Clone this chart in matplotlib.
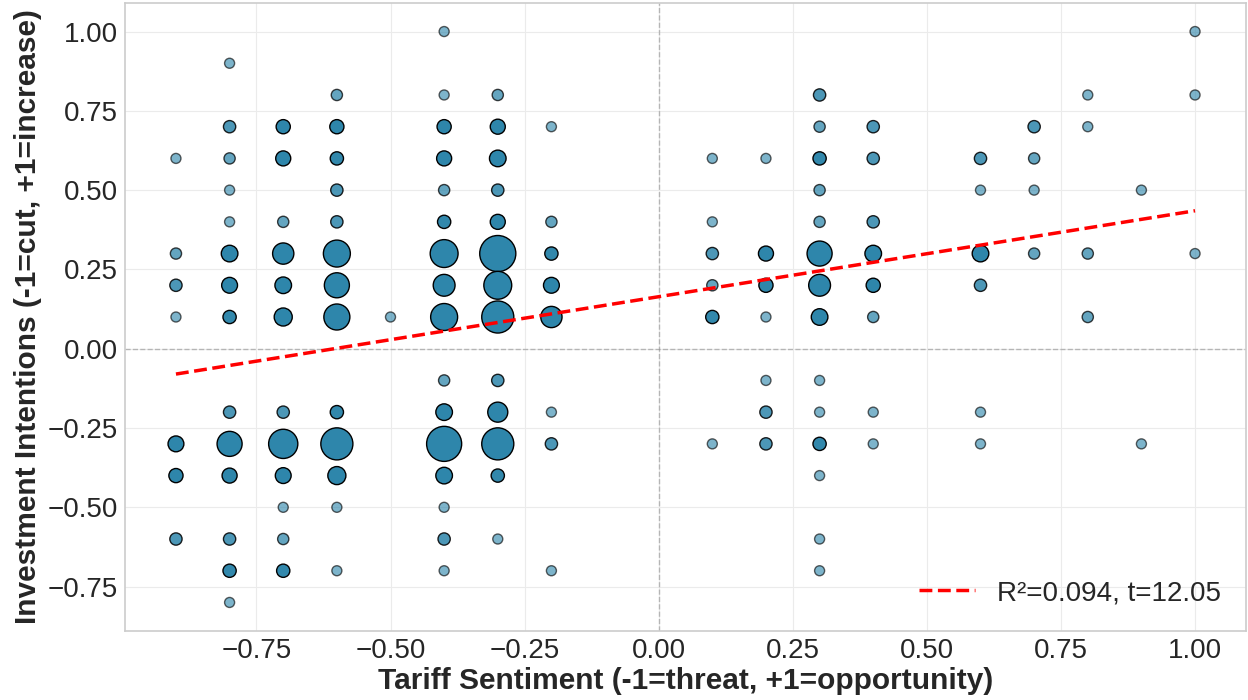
import matplotlib
matplotlib.use('Agg')
import matplotlib.pyplot as plt
import numpy as np

plt.style.use('seaborn-v0_8-whitegrid')
plt.rcParams['font.family'] = ['Liberation Sans', 'DejaVu Sans']

# sentiment value of each column, then the intention values and respondent counts in it
col_x = [-0.9, -0.8, -0.7, -0.6, -0.5, -0.4, -0.3, -0.2,
         0.1, 0.2, 0.3, 0.4, 0.6, 0.7, 0.8, 0.9, 1.0]
col_y = [
    [0.6, 0.3, 0.2, 0.1, -0.3, -0.4, -0.6],
    [0.9, 0.7, 0.6, 0.5, 0.4, 0.3, 0.2, 0.1, -0.2, -0.3, -0.4, -0.6, -0.7, -0.8],
    [0.7, 0.6, 0.4, 0.3, 0.2, 0.1, -0.2, -0.3, -0.4, -0.5, -0.6, -0.7],
    [0.8, 0.7, 0.6, 0.5, 0.4, 0.3, 0.2, 0.1, -0.2, -0.3, -0.4, -0.5, -0.7],
    [0.1],
    [1.0, 0.8, 0.7, 0.6, 0.5, 0.4, 0.3, 0.2, 0.1, -0.1, -0.2, -0.3, -0.4, -0.5, -0.6, -0.7],
    [0.8, 0.7, 0.6, 0.5, 0.4, 0.3, 0.2, 0.1, -0.1, -0.2, -0.3, -0.4, -0.6],
    [0.7, 0.4, 0.3, 0.2, 0.1, -0.2, -0.3, -0.7],
    [0.6, 0.4, 0.3, 0.2, 0.1, -0.3],
    [0.6, 0.3, 0.2, 0.1, -0.1, -0.2, -0.3],
    [0.8, 0.7, 0.6, 0.5, 0.4, 0.3, 0.2, 0.1, -0.1, -0.2, -0.3, -0.4, -0.6, -0.7],
    [0.7, 0.6, 0.4, 0.3, 0.2, 0.1, -0.2, -0.3],
    [0.6, 0.5, 0.3, 0.2, -0.2, -0.3],
    [0.7, 0.6, 0.5, 0.3],
    [0.8, 0.7, 0.3, 0.1],
    [0.5, -0.3],
    [1.0, 0.8, 0.3],
]
col_n = [
    [1, 2, 3, 1, 7, 5, 3],
    [1, 3, 2, 1, 1, 8, 7, 4, 3, 22, 6, 3, 4, 1],
    [5, 6, 2, 15, 8, 10, 3, 31, 7, 1, 2, 4],
    [2, 5, 4, 3, 3, 26, 22, 24, 4, 38, 10, 1, 1],
    [1],
    [1, 1, 5, 6, 2, 4, 28, 16, 26, 2, 8, 46, 8, 1, 3, 1],
    [2, 6, 8, 3, 6, 49, 28, 38, 3, 13, 38, 4, 1],
    [1, 2, 4, 7, 15, 1, 3, 1],
    [1, 1, 3, 2, 4, 1],
    [1, 6, 5, 1, 1, 3, 3],
    [3, 2, 4, 2, 2, 22, 16, 8, 1, 1, 4, 1, 1, 1],
    [3, 3, 3, 8, 5, 2, 1, 1],
    [3, 1, 8, 3, 1, 1],
    [3, 2, 1, 2],
    [1, 1, 2, 2],
    [1, 1],
    [1, 1, 1],
]

# OLS fit shown in the legend
fit_slope = 0.271
fit_intercept = 0.164
fit_label = 'R²=0.094, t=12.05'

xs = np.concatenate([[x] * len(ys) for x, ys in zip(col_x, col_y)])
ys = np.concatenate(col_y)
ns = np.concatenate(col_n)

fig, ax = plt.subplots(figsize=(12.48, 7), dpi=100)
fig.subplots_adjust(left=125 / 1248, right=1246 / 1248, top=1 - 3 / 700, bottom=1 - 631 / 700)

alphas = np.minimum(0.5 + 0.12 * ns, 1.0)
ax.scatter(xs, ys, s=39 + 13 * ns, c='#2E86AB', alpha=alphas,
           edgecolors='black', linewidths=1, zorder=3)

ax.axhline(0, color='gray', ls='--', lw=1, alpha=0.5, zorder=1)
ax.axvline(0, color='gray', ls='--', lw=1, alpha=0.5, zorder=1)

line_x = np.array([xs.min(), xs.max()])
ax.plot(line_x, fit_slope * line_x + fit_intercept, 'r--', lw=2.5,
        label=fit_label, zorder=4)

ax.set_xlabel('Tariff Sentiment (-1=threat, +1=opportunity)',
              fontsize=21.5, fontweight='bold', color='#262626', labelpad=2)
ax.set_ylabel('Investment Intentions (-1=cut, +1=increase)',
              fontsize=21.5, fontweight='bold', color='#262626', labelpad=4)
ax.tick_params(labelsize=20, colors='#262626', pad=5)
ax.set_xticks([-0.75, -0.5, -0.25, 0, 0.25, 0.5, 0.75, 1.0])
ax.set_yticks([-0.75, -0.5, -0.25, 0, 0.25, 0.5, 0.75, 1.0])
ax.grid(color='#ebebeb', lw=0.8)
for sp in ax.spines.values():
    sp.set_color('#cccccc')
    sp.set_linewidth(1.2)

ax.legend(loc='lower right', fontsize=20, frameon=False)

fig.savefig('out.png', dpi=100)
